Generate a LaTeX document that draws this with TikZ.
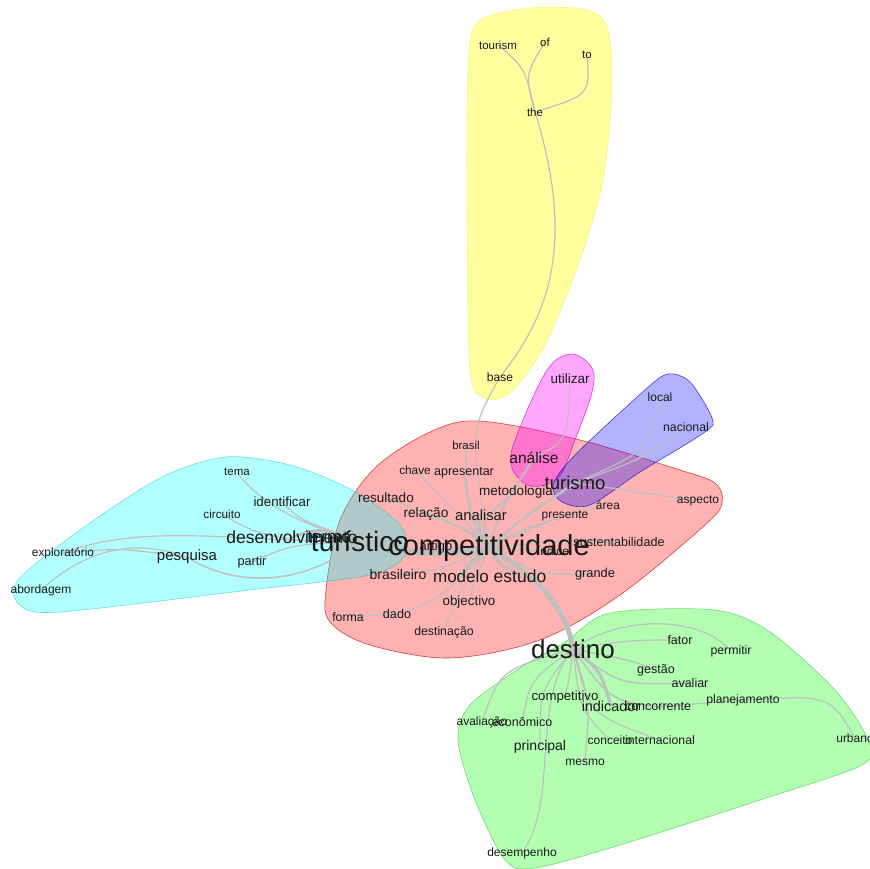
\documentclass[tikz,border=0pt]{standalone}
\usepackage{fontspec}
\setmainfont{Liberation Sans}
\pgfdeclarelayer{hulls}
\pgfdeclarelayer{edges}
\pgfsetlayers{hulls,edges,main}
\tikzset{
  wd/.style={inner sep=0pt, text=black!90, font=\fontsize{#1pt}{#1pt}\selectfont},
  ed/.style={draw=black!25, line width=#1, line cap=round},
  ed/.default=1.2pt,
  hull/.style={line width=0.6pt, fill opacity=#1, draw opacity=0.7},
}
\definecolor{hY}{RGB}{255,255,0}
\definecolor{hC}{RGB}{0,255,255}
\definecolor{hR}{RGB}{255,0,0}
\definecolor{hM}{RGB}{255,0,255}
\definecolor{hB}{RGB}{0,0,255}
\definecolor{hG}{RGB}{0,255,0}
\begin{document}
\begin{tikzpicture}[x=1pt,y=-1pt]
\useasboundingbox (0,0) rectangle (870,868);
% ---- nodes ----
% yellow
\node[wd=11.5] (tourism) at (498,45) {tourism};
\node[wd=11.5] (of) at (545,42) {of};
\node[wd=11.5] (to) at (587,55) {to};
\node[wd=11.5] (the) at (535,112) {the};
\node[wd=12] (base) at (500,377) {base};
% magenta / blue
\node[wd=13.5] (utilizar) at (570,379) {utilizar};
\node[wd=12] (local) at (660,397) {local};
\node[wd=12.3] (nacional) at (686,427) {nacional};
% red
\node[wd=11.5] (brasil) at (466,445) {brasil};
\node[wd=15.5] (analise) at (534,458) {análise};
\node[wd=11.8] (chave) at (415,470) {chave};
\node[wd=12.5] (apresentar) at (464,473) {apresentar};
\node[wd=13.5] (metodologia) at (516,492) {metodologia};
\node[wd=18.5] (turismo) at (575,483) {turismo};
\node[wd=13.5] (resultado) at (386,498) {resultado};
\node[wd=12] (area) at (608,505) {área};
\node[wd=12] (aspecto) at (698,501) {aspecto};
\node[wd=13.7] (relacao) at (426,514) {relação};
\node[wd=14.8] (analisar) at (481,515) {analisar};
\node[wd=12] (presente) at (565,516) {presente};
\node[wd=13] (artigo) at (436,547) {artigo};
\node[wd=12] (indice) at (553,551) {índice};
\node[wd=12.6] (sustentabilidade) at (619,542) {sustentabilidade};
\node[wd=28] (turistico) at (360,541) {turístico};
\node[wd=29] (comp) at (489,548) {competitividade};
\node[wd=14] (brasileiro) at (398,574) {brasileiro};
\node[wd=17] (modelo) at (461,576) {modelo};
\node[wd=17.5] (estudo) at (520,576) {estudo};
\node[wd=12.8] (grande) at (595,574) {grande};
\node[wd=13.4] (objectivo) at (469,602) {objectivo};
\node[wd=12.3] (forma) at (348,617) {forma};
\node[wd=12.6] (dado) at (397,614) {dado};
\node[wd=12.3] (destinacao) at (444,632) {destinação};
% cyan
\node[wd=11.5] (tema) at (237,472) {tema};
\node[wd=13.3] (identificar) at (282,502) {identificar};
\node[wd=11.7] (circuito) at (222,514) {circuito};
\node[wd=17] (termo) at (329,537) {termo};
\node[wd=17.5] (desenvolvimento) at (292,537) {desenvolvimento};
\node[wd=11.9] (exploratorio) at (63,553) {exploratório};
\node[wd=15] (pesquisa) at (187,557) {pesquisa};
\node[wd=12.7] (partir) at (252,562) {partir};
\node[wd=12] (abordagem) at (41,590) {abordagem};
% green
\node[wd=26] (destino) at (573,649) {destino};
\node[wd=12.5] (fator) at (680,640) {fator};
\node[wd=12.3] (permitir) at (731,651) {permitir};
\node[wd=12.5] (gestao) at (656,670) {gestão};
\node[wd=12.5] (avaliar) at (690,683) {avaliar};
\node[wd=12.2] (planejamento) at (743,700) {planejamento};
\node[wd=13.2] (competitivo) at (565,697) {competitivo};
\node[wd=12.5] (concorrente) at (658,707) {concorrente};
\node[wd=14.4] (indicador) at (611,706) {indicador};
\node[wd=12] (avaliacao) at (482,722) {avaliação};
\node[wd=12.5] (economico) at (522,722) {econômico};
\node[wd=12] (conceito) at (610,740) {conceito};
\node[wd=12.3] (internacional) at (660,740) {internacional};
\node[wd=14] (principal) at (540,747) {principal};
\node[wd=12] (mesmo) at (585,762) {mesmo};
\node[wd=12] (urbano) at (855,738) {urbano};
\node[wd=12] (desempenho) at (522,853) {desempenho};

% ---- hulls ----
\begin{pgfonlayer}{hulls}
\filldraw[hull=0.3, fill=hR, draw=hR!80!black] plot[smooth cycle, tension=0.55] coordinates {(430,432) (480,421) (580,440) (680,470) (715,483) (722,503) (705,525) (620,595) (540,640) (450,658) (370,645) (330,622) (326,590) (340,520) (375,468)};
\filldraw[hull=0.38, fill=hY, draw=hY!85!black, draw opacity=0.3] plot[smooth cycle, tension=0.5] coordinates {(468,70) (478,22) (530,8) (588,10) (608,30) (612,90) (603,180) (580,260) (545,345) (510,393) (484,398) (470,370) (467,220)};
\filldraw[hull=0.3, fill=hC, draw=hC!75!black, draw opacity=0.5] plot[smooth cycle, tension=0.5] coordinates {(225,457) (290,465) (352,490) (400,525) (405,555) (370,575) (250,590) (60,612) (20,605) (18,580) (80,530) (160,478)};
\filldraw[hull=0.35, fill=hM, draw=hM!80!black] plot[smooth cycle, tension=0.55] coordinates {(547,370) (572,354) (592,368) (592,392) (575,440) (558,478) (530,486) (512,468) (515,440)};
\filldraw[hull=0.3, fill=hB, draw=hB!80!black] plot[smooth cycle, tension=0.5] coordinates {(668,374) (690,382) (712,418) (705,432) (640,472) (590,505) (562,502) (553,485) (575,455) (645,390)};
\filldraw[hull=0.3, fill=hG, draw=hG!65!black, draw opacity=0.45] plot[smooth cycle, tension=0.5] coordinates {(610,613) (715,610) (770,632) (835,690) (868,740) (862,765) (760,800) (620,845) (535,868) (505,860) (475,800) (458,740) (470,705) (520,668) (565,642)};
\end{pgfonlayer}

% ---- edges ----
\begin{pgfonlayer}{edges}
% yellow
\draw[ed] (tourism.center) .. controls (525,68) .. (the.center);
\draw[ed] (of.center) .. controls (525,75) .. (the.center);
\draw[ed] (to.center) .. controls (590,95) .. (the.center);
\draw[ed] (the.center) .. controls (578,250) and (545,320) .. (base.center);
\draw[ed] (base.center) .. controls (470,430) .. (comp.center);
% magenta / blue
\draw[ed] (utilizar.center) .. controls (568,440) .. (analise.center);
\draw[ed] (local.center) .. controls (650,450) .. (turismo.center);
\draw[ed] (nacional.center) .. controls (640,460) .. (turismo.center);
% red hub
\draw[ed=6pt] (comp.center) .. controls (430,556) .. (turistico.center);
\draw[ed=5pt] (comp.center) .. controls (545,580) and (568,615) .. (destino.center);
\draw[ed=2.5pt] (comp.center) .. controls (478,530) .. (analisar.center);
\draw[ed=2pt] (comp.center) .. controls (470,530) .. (relacao.center);
\draw[ed=2pt] (comp.center) .. controls (480,520) .. (metodologia.center);
\draw[ed=1.5pt] (comp.center) .. controls (470,520) .. (apresentar.center);
\draw[ed=1.5pt] (comp.center) .. controls (460,515) .. (chave.center);
\draw[ed=1.5pt] (comp.center) .. controls (466,500) .. (brasil.center);
\draw[ed=1.5pt] (comp.center) .. controls (460,525) .. (resultado.center);
\draw[ed=2pt] (comp.center) .. controls (500,510) .. (analise.center);
\draw[ed=2.5pt] (comp.center) .. controls (520,520) .. (turismo.center);
\draw[ed=1.5pt] (comp.center) .. controls (520,530) .. (presente.center);
\draw[ed=1.2pt] (comp.center) .. controls (550,520) .. (area.center);
\draw[ed=1.2pt] (turismo.center) .. controls (640,492) .. (aspecto.center);
\draw[ed=1.5pt] (comp.center) .. controls (560,540) .. (sustentabilidade.center);
\draw[ed=1.5pt] (comp.center) .. controls (540,575) .. (grande.center);
\draw[ed=1.5pt] (comp.center) -- (indice.center);
\draw[ed=1.5pt] (comp.center) -- (artigo.center);
\draw[ed=3pt] (comp.center) .. controls (500,565) .. (estudo.center);
\draw[ed=3pt] (comp.center) .. controls (470,562) .. (modelo.center);
\draw[ed=1.5pt] (comp.center) .. controls (440,570) .. (brasileiro.center);
\draw[ed=1.5pt] (comp.center) .. controls (475,580) .. (objectivo.center);
\draw[ed=1.2pt] (comp.center) .. controls (440,600) .. (dado.center);
\draw[ed=1.2pt] (dado.center) -- (forma.center);
\draw[ed=1.2pt] (comp.center) .. controls (455,600) .. (destinacao.center);
% cyan
\draw[ed=3pt] (turistico.center) .. controls (320,528) .. (desenvolvimento.center);
\draw[ed=1.5pt] (turistico.center) -- (termo.center);
\draw[ed] (turistico.center) .. controls (300,520) .. (identificar.center);
\draw[ed] (turistico.center) .. controls (280,520) and (250,490) .. (tema.center);
\draw[ed] (turistico.center) .. controls (270,545) and (245,528) .. (circuito.center);
\draw[ed] (turistico.center) .. controls (290,545) .. (partir.center);
\draw[ed=1.5pt] (turistico.center) .. controls (300,590) and (230,585) .. (pesquisa.center);
\draw[ed] (turistico.center) .. controls (260,545) and (150,520) .. (exploratorio.center);
\draw[ed] (pesquisa.center) .. controls (140,540) and (90,545) .. (abordagem.center);
\draw[ed] (pesquisa.center) .. controls (120,548) .. (exploratorio.center);
% green
\draw[ed] (destino.center) .. controls (630,640) .. (fator.center);
\draw[ed] (destino.center) .. controls (620,615) and (700,615) .. (permitir.center);
\draw[ed=1.5pt] (destino.center) .. controls (630,660) .. (gestao.center);
\draw[ed=1.5pt] (destino.center) .. controls (620,685) .. (avaliar.center);
\draw[ed=3pt] (destino.center) .. controls (600,670) .. (indicador.center);
\draw[ed=1.5pt] (destino.center) .. controls (610,700) .. (concorrente.center);
\draw[ed] (concorrente.center) -- (planejamento.center);
\draw[ed] (planejamento.center) .. controls (830,695) .. (urbano.center);
\draw[ed] (destino.center) .. controls (570,675) .. (competitivo.center);
\draw[ed] (destino.center) .. controls (500,670) .. (avaliacao.center);
\draw[ed] (destino.center) .. controls (530,680) .. (economico.center);
\draw[ed] (destino.center) .. controls (580,710) .. (conceito.center);
\draw[ed] (destino.center) .. controls (590,715) .. (internacional.center);
\draw[ed] (destino.center) .. controls (540,690) .. (principal.center);
\draw[ed] (destino.center) .. controls (590,700) .. (mesmo.center);
\draw[ed] (destino.center) .. controls (530,700) and (560,800) .. (desempenho.center);
\end{pgfonlayer}
\end{tikzpicture}
\end{document}
